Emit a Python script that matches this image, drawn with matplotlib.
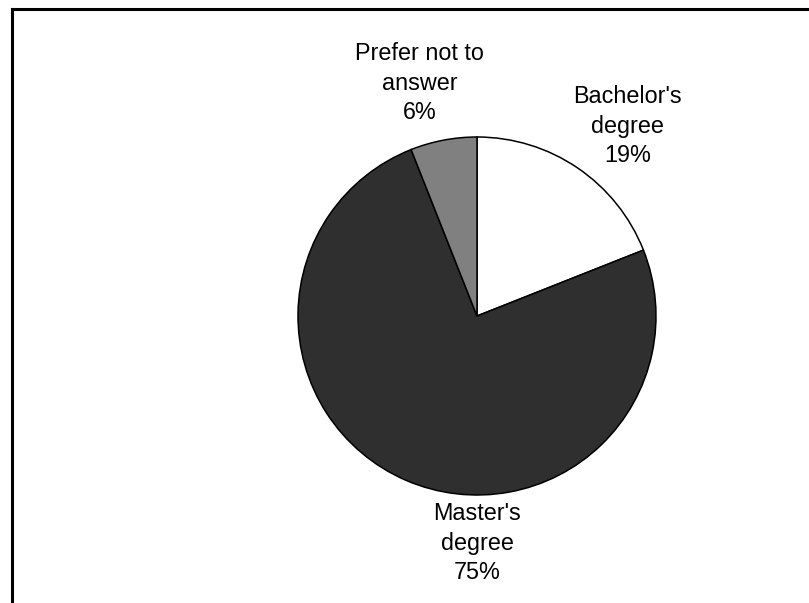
import matplotlib
matplotlib.use("Agg")
import matplotlib.pyplot as plt
from matplotlib.lines import Line2D

categories = ["Bachelor's\ndegree", "Master's\ndegree", "Prefer not to\nanswer"]
values = [19, 75, 6]
colors = ["#ffffff", "#2f2f2f", "#808080"]
# label centres in pie-radius units
label_pos = [(0.84, 1.06), (0.0, -1.27), (-0.32, 1.30)]

plt.rcParams['font.family'] = ['Liberation Sans', 'DejaVu Sans']

W, H = 809, 603
fig = plt.figure(figsize=(W / 100, H / 100), dpi=100)
fig.patch.set_facecolor("white")

cx, cy, r = 477, 316, 179
ax = fig.add_axes([(cx - r) / W, (H - cy - r) / H, 2 * r / W, 2 * r / H])
ax.pie(values, colors=colors, startangle=90, counterclock=False, radius=1,
       wedgeprops=dict(edgecolor="black", linewidth=1.1))
ax.set_xlim(-1, 1)
ax.set_ylim(-1, 1)
ax.set_aspect("equal")
ax.axis("off")

for cat, v, (x, y) in zip(categories, values, label_pos):
    ax.text(x, y, f"{cat}\n{v}%", ha="center", va="center", fontsize=16.8,
            linespacing=1.36, color="black", clip_on=False)

# frame lines (top and left)
fig.add_artist(Line2D([11.5 / W, 1.0], [1 - 8.5 / H, 1 - 8.5 / H], color="black",
                      lw=2.2, transform=fig.transFigure))
fig.add_artist(Line2D([11.5 / W, 11.5 / W], [1 - 8.5 / H, 0.0], color="black",
                      lw=2.2, transform=fig.transFigure))

fig.savefig("out.png", dpi=100, facecolor="white")
